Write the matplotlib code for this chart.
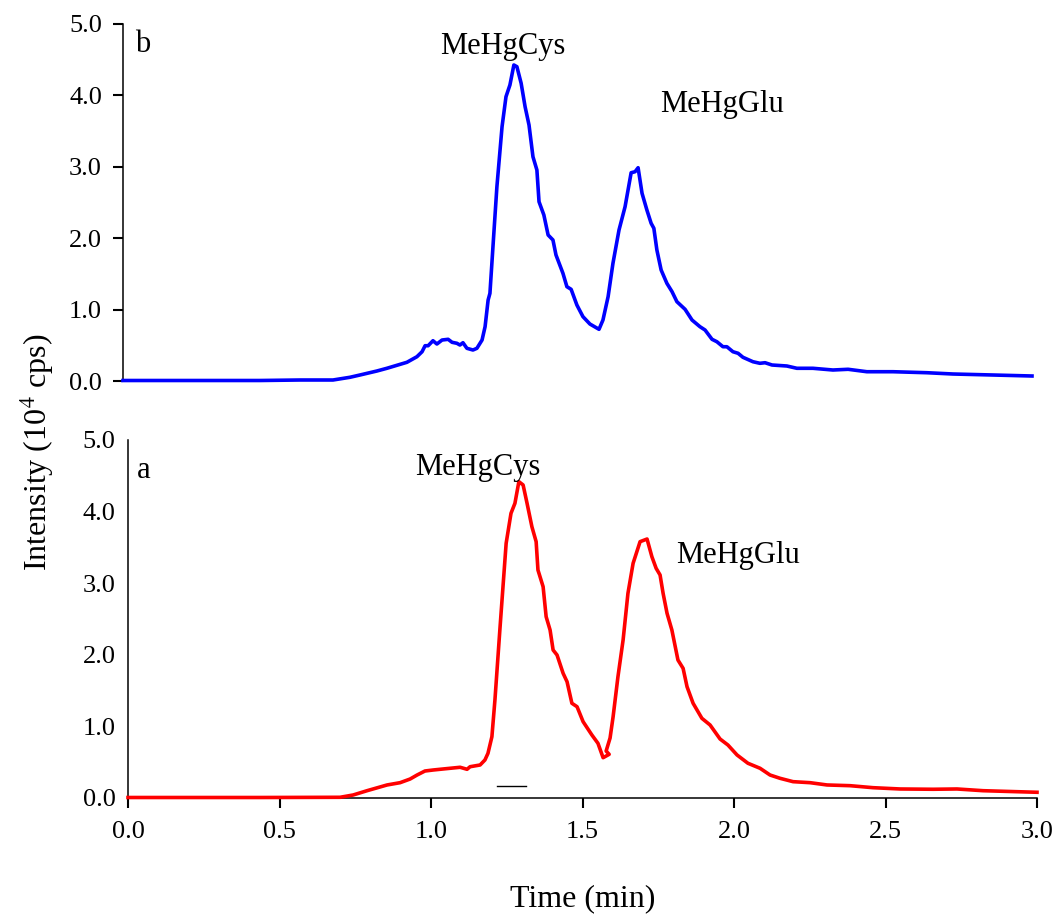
import matplotlib
matplotlib.use("Agg")
import matplotlib.pyplot as plt

plt.rcParams["font.family"] = ["Liberation Serif", "DejaVu Serif"]
plt.rcParams["mathtext.fontset"] = "stix"

# Chromatogram b (upper trace)
time_b = [0.000, 0.254, 0.452, 0.584, 0.693, 0.749, 0.782, 0.838, 0.871, 0.937,
          0.970, 0.987, 0.997, 1.007, 1.023, 1.036, 1.053, 1.073, 1.086, 1.102,
          1.112, 1.122, 1.135, 1.155, 1.168, 1.185, 1.195, 1.205, 1.211, 1.221,
          1.234, 1.251, 1.264, 1.277, 1.290, 1.300, 1.314, 1.327, 1.340, 1.353,
          1.366, 1.373, 1.389, 1.403, 1.419, 1.429, 1.452, 1.465, 1.479, 1.498,
          1.518, 1.541, 1.571, 1.584, 1.601, 1.617, 1.637, 1.657, 1.677, 1.690,
          1.700, 1.713, 1.729, 1.743, 1.752, 1.762, 1.776, 1.795, 1.812, 1.828,
          1.855, 1.878, 1.904, 1.921, 1.944, 1.960, 1.980, 1.993, 2.013, 2.030,
          2.046, 2.079, 2.102, 2.119, 2.142, 2.191, 2.224, 2.277, 2.343, 2.393,
          2.455, 2.541, 2.653, 2.739, 2.871, 3.000]
intensity_b = [0.007, 0.007, 0.007, 0.014, 0.014, 0.052, 0.084, 0.140, 0.178, 0.262,
               0.340, 0.410, 0.494, 0.494, 0.564, 0.518, 0.574, 0.584, 0.542, 0.528,
               0.504, 0.536, 0.458, 0.434, 0.458, 0.574, 0.761, 1.134, 1.228, 1.881,
               2.721, 3.562, 3.982, 4.146, 4.426, 4.402, 4.170, 3.842, 3.585, 3.141,
               2.955, 2.511, 2.325, 2.045, 1.975, 1.765, 1.508, 1.321, 1.284, 1.064,
               0.901, 0.798, 0.724, 0.854, 1.181, 1.648, 2.115, 2.441, 2.917, 2.931,
               2.987, 2.629, 2.395, 2.209, 2.139, 1.835, 1.555, 1.368, 1.251, 1.111,
               1.004, 0.854, 0.761, 0.714, 0.584, 0.550, 0.480, 0.480, 0.410, 0.388,
               0.332, 0.270, 0.248, 0.256, 0.224, 0.210, 0.178, 0.178, 0.154, 0.164,
               0.130, 0.130, 0.116, 0.098, 0.084, 0.070]

# Chromatogram a (lower trace)
time_a = [0.000, 0.238, 0.436, 0.700, 0.743, 0.789, 0.855, 0.898, 0.931, 0.954,
          0.980, 1.007, 1.030, 1.063, 1.096, 1.119, 1.129, 1.162, 1.178, 1.188,
          1.201, 1.211, 1.228, 1.248, 1.264, 1.277, 1.290, 1.304, 1.317, 1.333,
          1.347, 1.353, 1.370, 1.380, 1.393, 1.403, 1.416, 1.436, 1.449, 1.465,
          1.482, 1.502, 1.531, 1.551, 1.568, 1.588, 1.578, 1.591, 1.601, 1.617,
          1.634, 1.650, 1.667, 1.690, 1.713, 1.729, 1.743, 1.756, 1.766, 1.779,
          1.795, 1.815, 1.832, 1.845, 1.865, 1.894, 1.921, 1.954, 1.980, 2.010,
          2.046, 2.086, 2.119, 2.152, 2.195, 2.251, 2.307, 2.383, 2.459, 2.548,
          2.657, 2.736, 2.822, 2.934, 3.000]
intensity_a = [0.007, 0.007, 0.007, 0.010, 0.042, 0.102, 0.182, 0.214, 0.265, 0.321,
               0.377, 0.391, 0.401, 0.415, 0.429, 0.401, 0.437, 0.461, 0.531, 0.624,
               0.856, 1.369, 2.392, 3.557, 3.976, 4.116, 4.418, 4.372, 4.116, 3.789,
               3.580, 3.184, 2.951, 2.532, 2.346, 2.067, 1.997, 1.742, 1.624, 1.323,
               1.275, 1.066, 0.880, 0.764, 0.563, 0.610, 0.656, 0.838, 1.135, 1.694,
               2.207, 2.859, 3.278, 3.580, 3.617, 3.370, 3.208, 3.115, 2.859, 2.580,
               2.346, 1.927, 1.811, 1.554, 1.323, 1.113, 1.020, 0.824, 0.740, 0.601,
               0.485, 0.415, 0.321, 0.275, 0.228, 0.214, 0.182, 0.172, 0.144, 0.126,
               0.122, 0.126, 0.102, 0.088, 0.080]

# Short marker line under the first peak of trace a
bar_x = [1.218, 1.313]
bar_y = [0.17, 0.17]

y_ticks = [0.0, 1.0, 2.0, 3.0, 4.0, 5.0]
x_ticks = [0.0, 0.5, 1.0, 1.5, 2.0, 2.5, 3.0]

W, H = 1059, 917
fig = plt.figure(figsize=(W / 100, H / 100), dpi=100)

ax_b = fig.add_axes([123 / W, 1 - 381 / H, 909 / W, 357 / H])
ax_a = fig.add_axes([128 / W, 1 - 798 / H, 909 / W, 358 / H])

tick_fs = 19
label_fs = 22

for ax in (ax_b, ax_a):
    ax.set_xlim(0, 3)
    ax.set_ylim(0, 5)
    for side in ("top", "right"):
        ax.spines[side].set_visible(False)
    ax.spines["left"].set_linewidth(1.1)
    ax.spines["bottom"].set_linewidth(1.1)
    ax.set_yticks(y_ticks)
    ax.set_yticklabels([f"{v:.1f}" for v in y_ticks])

# upper panel
ax_b.plot(time_b, intensity_b, color="#0000FF", lw=2.6, clip_on=False, zorder=3)
ax_b.spines["bottom"].set_visible(False)
ax_b.set_xticks([])
ax_b.tick_params(axis="y", direction="out", length=7.2, width=1.5,
                 pad=8.0, labelsize=tick_fs)
ax_b.text(0.066, 4.71, "b", fontsize=label_fs, ha="center", va="center")
ax_b.text(1.254, 4.68, "MeHgCys", fontsize=label_fs, ha="center", va="center")
ax_b.text(1.977, 3.87, "MeHgGlu", fontsize=label_fs, ha="center", va="center")

# lower panel
ax_a.plot(time_a, intensity_a, color="#FF0000", lw=2.6, clip_on=False, zorder=3)
ax_a.plot(bar_x, bar_y, color="black", lw=1.0)
ax_a.set_xticks(x_ticks)
ax_a.set_xticklabels([f"{v:.1f}" for v in x_ticks])
ax_a.tick_params(axis="y", length=0, pad=9.0, labelsize=tick_fs)
ax_a.tick_params(axis="x", direction="out", length=7.2, width=1.5,
                 pad=9.5, labelsize=tick_fs)
ax_a.text(0.053, 4.58, "a", fontsize=label_fs, ha="center", va="center")
ax_a.text(1.155, 4.62, "MeHgCys", fontsize=label_fs, ha="center", va="center")
ax_a.text(2.013, 3.38, "MeHgGlu", fontsize=label_fs, ha="center", va="center")

fig.text(583 / W, 1 - 899 / H, "Time (min)", fontsize=23,
         ha="center", va="center")
fig.text(37 / W, 1 - 452 / H, "Intensity (10$^{4}$ cps)", fontsize=23,
         ha="center", va="center", rotation=90)

fig.savefig("out.png", dpi=100)
